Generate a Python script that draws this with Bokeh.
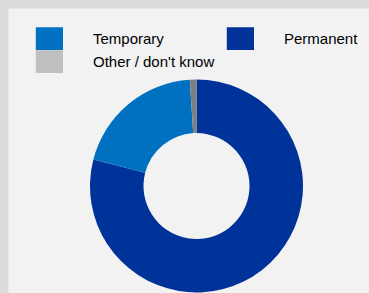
import numpy as np
from bokeh.plotting import figure
from bokeh.models import Legend, LegendItem, Range1d
from bokeh.embed import file_html
from bokeh.resources import INLINE

# Data (clockwise from 12 o'clock)
slice_labels = ["Permanent", "Temporary", "Other / don't know"]
slice_values = [79, 20, 1]
slice_colors = ["#003399", "#0070c0", "#808080"]

legend_labels = ["Temporary", "Permanent", "Other / don't know"]
legend_colors = ["#0070c0", "#003399", "#bfbfbf"]

W, H = 361, 285
p = figure(width=W, height=H, output_backend="svg", toolbar_location=None,
           x_range=Range1d(0, W), y_range=Range1d(0, H), min_border=0)
p.axis.visible = False
p.grid.visible = False
p.outline_line_color = None
p.background_fill_color = "#f2f2f2"
p.border_fill_color = "#f2f2f2"

vals = np.array(slice_values, dtype=float)
frac = vals / vals.sum()
cum = np.concatenate([[0], np.cumsum(frac)])
starts = np.pi / 2 - cum[:-1] * 2 * np.pi
ends = np.pi / 2 - cum[1:] * 2 * np.pi

cx, cy = 188, 107.5
p.annular_wedge(x=cx, y=cy, inner_radius=53, outer_radius=106.5,
                start_angle=starts, end_angle=ends, direction="clock",
                fill_color=slice_colors, line_color=None)

items = []
for lab, col in zip(legend_labels, legend_colors):
    r = p.rect(x=[-1000], y=[-1000], width=1, height=1, fill_color=col,
               line_color=col, line_width=5, line_join="miter")
    items.append(LegendItem(label=lab, renderers=[r]))

legend = Legend(items=items, location=(27, 220), orientation="horizontal", ncols=2,
                glyph_width=28, glyph_height=23, label_standoff=30, label_width=133,
                label_height=23, spacing=0, padding=0, margin=0,
                border_line_color=None, background_fill_alpha=0,
                label_text_font="Liberation Sans", label_text_font_size="15px",
                label_text_color="#000000", label_text_baseline="middle")
p.add_layout(legend, "center")

html = file_html(p, INLINE)
style = ("<style>html, body { margin: 0 !important; background-color: #dcdcdc !important; }"
         " body { padding: 8px 0 0 8px !important; }</style>")
html = html.replace("</head>", style + "</head>", 1)
open("out.html", "w").write(html)
